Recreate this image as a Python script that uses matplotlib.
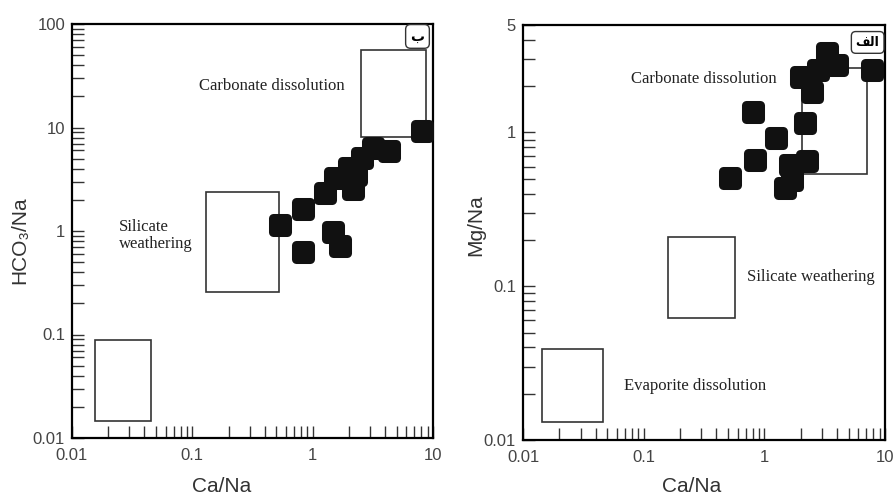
import matplotlib.pyplot as plt
from matplotlib.markers import MarkerStyle
from matplotlib.patches import Rectangle
from matplotlib.ticker import FixedLocator, FixedFormatter

plt.rcParams['font.family'] = ['Liberation Sans', 'DejaVu Sans']

# panel "ب" : HCO3/Na vs Ca/Na
hco3_ca = [0.54, 0.83, 0.83, 1.26, 1.53, 2.0, 2.15, 2.28, 2.56, 3.16, 4.3, 1.47, 1.68, 8.1]
hco3_na = [1.14, 1.63, 0.63, 2.33, 3.25, 4.06, 2.55, 3.48, 5.07, 6.34, 5.93, 0.98, 0.72, 9.25]

# panel "الف" : Mg/Na vs Ca/Na
mg_ca = [0.805, 1.25, 0.836, 0.52, 2.17, 1.63, 2.25, 1.48, 1.69, 2.01, 2.48, 3.30, 3.99, 7.79, 2.78]
mg_na = [1.36, 0.92, 0.66, 0.505, 1.15, 0.61, 0.65, 0.435, 0.49, 2.3, 1.83, 3.29, 2.75, 2.55, 2.55]

# end-member boxes [x0, x1, y0, y1]
hco3_carb_box = [2.5, 8.7, 8.1, 56]
hco3_sil_box = [0.13, 0.53, 0.26, 2.4]
hco3_evap_box = [0.0156, 0.0455, 0.0146, 0.0885]
mg_carb_box = [2.05, 7.08, 0.537, 2.62]
mg_sil_box = [0.159, 0.57, 0.062, 0.209]
mg_evap_box = [0.0144, 0.046, 0.0131, 0.039]

x_ticks = [0.01, 0.1, 1, 10]
x_labels = ['0.01', '0.1', '1', '10']
x_minor = [0.02, 0.03, 0.04, 0.05, 0.06, 0.07, 0.08, 0.09,
           0.2, 0.3, 0.4, 0.5, 0.6, 0.7, 0.8, 0.9,
           2, 3, 4, 5, 6, 7, 8, 9]
hco3_ticks = [0.01, 0.1, 1, 10, 100]
hco3_labels = ['0.01', '0.1', '1', '10', '100']
hco3_minor = [0.02, 0.03, 0.04, 0.05, 0.06, 0.07, 0.08, 0.09,
              0.2, 0.3, 0.4, 0.5, 0.6, 0.7, 0.8, 0.9,
              2, 3, 4, 5, 6, 7, 8, 9,
              20, 30, 40, 50, 60, 70, 80, 90]
mg_ticks = [0.01, 0.1, 1, 5]
mg_labels = ['0.01', '0.1', '1', '5']
mg_minor = [0.02, 0.03, 0.04, 0.05, 0.06, 0.07, 0.08, 0.09,
            0.2, 0.3, 0.4, 0.5, 0.6, 0.7, 0.8, 0.9,
            2, 3, 4]

fig = plt.figure(figsize=(8.93, 5), dpi=100)
ax1 = fig.add_axes([0.0806, 0.124, 0.4043, 0.828])
ax2 = fig.add_axes([0.5857, 0.12, 0.4054, 0.83])

marker = MarkerStyle('s', joinstyle='round')


def setup(ax, ylim, yt, ytl, ymin):
    ax.set_xscale('log')
    ax.set_yscale('log')
    ax.set_xlim(0.01, 10)
    ax.set_ylim(*ylim)
    ax.xaxis.set_major_locator(FixedLocator(x_ticks))
    ax.xaxis.set_major_formatter(FixedFormatter(x_labels))
    ax.xaxis.set_minor_locator(FixedLocator(x_minor))
    ax.yaxis.set_major_locator(FixedLocator(yt))
    ax.yaxis.set_major_formatter(FixedFormatter(ytl))
    ax.yaxis.set_minor_locator(FixedLocator(ymin))
    ax.yaxis.set_minor_formatter(FixedFormatter([]))
    ax.xaxis.set_minor_formatter(FixedFormatter([]))
    ax.tick_params(which='both', direction='in', length=8.5, width=1,
                   color='#333333', top=False, right=False)
    ax.tick_params(which='major', labelsize=12, labelcolor='#444444', pad=5)
    ax.tick_params(axis='x', which='major', pad=7)
    for s in ax.spines.values():
        s.set_linewidth(1.6)


def box(ax, b):
    ax.add_patch(Rectangle((b[0], b[2]), b[1] - b[0], b[3] - b[2],
                           fill=False, ec='#333333', lw=1.2, zorder=2))


# left panel
setup(ax1, (0.01, 100), hco3_ticks, hco3_labels, hco3_minor)
for b in [hco3_carb_box, hco3_sil_box, hco3_evap_box]:
    box(ax1, b)
ax1.plot(hco3_ca, hco3_na, ls='none', marker=marker, ms=10, mew=6.5,
         mfc='#111111', mec='#111111', zorder=3, clip_on=False)
ax1.text(0.554, 0.85, 'Carbonate dissolution', transform=ax1.transAxes,
         ha='center', va='center', family='Liberation Serif', fontsize=12, color='#222222')
ax1.text(0.130, 0.49, 'Silicate\nweathering', transform=ax1.transAxes,
         ha='left', va='center', family='Liberation Serif', fontsize=12,
         color='#222222', linespacing=1.1)
ax1.text(0.957, 0.970, '\u0628', transform=ax1.transAxes, ha='center', va='center',
         family='DejaVu Sans', fontweight='bold', fontsize=10,
         bbox=dict(boxstyle='round,pad=0.35', fc='white', ec='#333333', lw=1))
ax1.set_xlabel('Ca/Na', fontsize=15, color='#333333')
ax1.xaxis.set_label_coords(0.415, -0.118)
ax1.xaxis.label.set_va('center')
ax1.set_ylabel('HCO\u2083/Na', fontsize=15, color='#333333')
ax1.yaxis.set_label_coords(-0.144, 0.478)
ax1.yaxis.label.set_va('center')

# right panel
setup(ax2, (0.01, 5), mg_ticks, mg_labels, mg_minor)
for b in [mg_carb_box, mg_sil_box, mg_evap_box]:
    box(ax2, b)
ax2.plot(mg_ca, mg_na, ls='none', marker=marker, ms=10, mew=6.5,
         mfc='#111111', mec='#111111', zorder=3, clip_on=False)
ax2.text(0.5, 0.87, 'Carbonate dissolution', transform=ax2.transAxes,
         ha='center', va='center', family='Liberation Serif', fontsize=12, color='#222222')
ax2.text(0.796, 0.393, 'Silicate weathering', transform=ax2.transAxes,
         ha='center', va='center', family='Liberation Serif', fontsize=12, color='#222222')
ax2.text(0.475, 0.13, 'Evaporite dissolution', transform=ax2.transAxes,
         ha='center', va='center', family='Liberation Serif', fontsize=12, color='#222222')
ax2.text(0.952, 0.958, '\ufed2\ufedf\u0627', transform=ax2.transAxes, ha='center', va='center',
         family='DejaVu Sans', fontweight='bold', fontsize=9,
         bbox=dict(boxstyle='round,pad=0.35', fc='white', ec='#333333', lw=1))
ax2.set_xlabel('Ca/Na', fontsize=15, color='#333333')
ax2.xaxis.set_label_coords(0.467, -0.113)
ax2.xaxis.label.set_va('center')
ax2.set_ylabel('Mg/Na', fontsize=15, color='#333333')
ax2.yaxis.set_label_coords(-0.130, 0.518)
ax2.yaxis.label.set_va('center')

plt.savefig('out.png', dpi=100)
